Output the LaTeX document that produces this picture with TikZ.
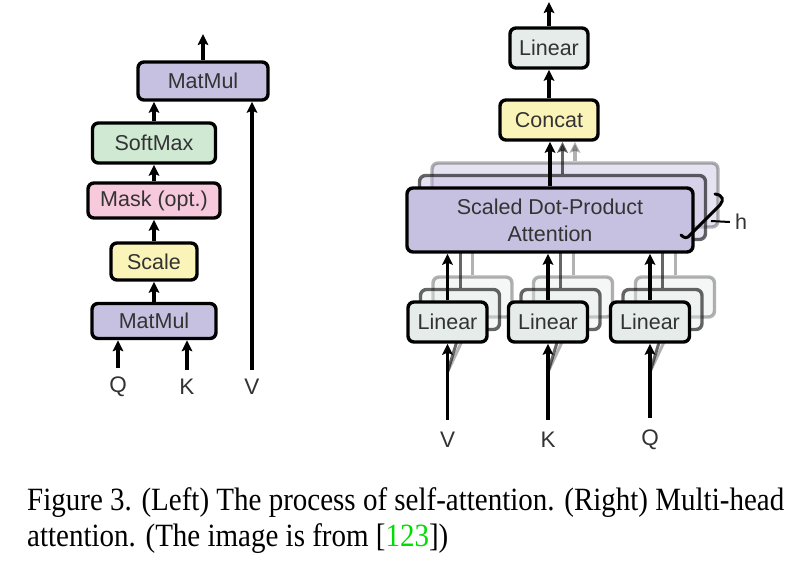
\documentclass[tikz,border=0pt]{standalone}
\usepackage{fontspec}
\setmainfont{Liberation Serif}
\setsansfont{Liberation Sans}
\usetikzlibrary{arrows.meta}
\definecolor{mmpurple}{HTML}{C6C0E1}
\definecolor{smgreen}{HTML}{CFE9D3}
\definecolor{mkpink}{HTML}{F7C9DC}
\definecolor{scyellow}{HTML}{FBF4B9}
\definecolor{lngray}{HTML}{E5ECEA}
\definecolor{txtgray}{HTML}{333333}
\definecolor{citegreen}{HTML}{00DD00}

\begin{document}
\begin{tikzpicture}[x=1pt, y=-1pt,
every node/.style={%
    inner sep=0pt, text=txtgray, font=\sffamily\fontsize{21.5}{24}\selectfont
    },
blk/.style={draw, line width=3.4pt, rounded corners=6pt},
arr/.style={line width=3.4pt, -{Stealth[length=11pt,width=10.5pt,inset=2pt]}},
lbl/.style={font=\sffamily\fontsize{22.5}{24}\selectfont},
captext/.style={anchor=base west, text=black, yscale=1.12,
    font=\rmfamily\fontsize{29}{36}\selectfont}
]
\path[use as bounding box, fill=white] (0,0) rectangle (809,566);

% left: scaled dot-product attention
\node[blk, fill=mmpurple, minimum width=130pt, minimum height=38pt] (mmtop) at (203,81) {MatMul};
\node[blk, fill=smgreen, minimum width=123pt, minimum height=40pt] (smax) at (154,143) {SoftMax};
\node[blk, fill=mkpink, minimum width=132pt, minimum height=35pt] (mask) at (154,200.5) {Mask (opt.)};
\node[blk, fill=scyellow, minimum width=86pt, minimum height=37pt] (scl) at (154,261.5) {Scale};
\node[blk, fill=mmpurple, minimum width=124pt, minimum height=35pt] (mmbot) at (154,321) {MatMul};

\node[lbl] (q) at (118,387) {Q};
\node[lbl] (k) at (187,387) {K};
\node[lbl] (v) at (252,387) {V};
\coordinate (outL) at (203,34);

\draw[arr] ([yshift=9pt]q.north) -- (q |- mmbot.south);
\draw[arr] ([yshift=9pt]k.north) -- (k |- mmbot.south);
\draw[arr] ([yshift=9pt]v.north) -- (v |- mmtop.south);
\foreach \i/\j in {mmbot/scl, scl/mask, mask/smax, smax/mmtop}
    \draw[arr] (\i.north) -- (\i.north |- \j.south);
\draw[arr] (mmtop.north) -- (outL);

% right: multi-head attention, copies behind
\foreach \k/\d/\op in {3/25/0.3, 2/12.5/0.6}{
    \node[blk, draw opacity=\op, fill=mmpurple, fill opacity=0.45,
        minimum width=286pt, minimum height=64pt] (sdpa-\k) at (550+\d,220-\d) {};
    \foreach \i/\x in {1/447.5, 2/548, 3/650}{
        \node[blk, draw opacity=\op, fill=lngray, fill opacity=0.4,
            minimum width=79pt, minimum height=40pt] (lin\i-\k) at (\x+\d,322-\d) {};
        \draw[line width=3pt, black, opacity=\op] (lin\i-\k.north) -- (lin\i-\k.north |- sdpa-\k.south);
        \coordinate (in\i-\k) at (\x,372);
        \draw[line width=3pt, black, opacity=\op] (in\i-\k) -- (lin\i-\k.south);
    }
}

\node[blk, fill=mmpurple, minimum width=286pt, minimum height=64pt, align=center,
    font=\sffamily\fontsize{21.5}{27}\selectfont] (sdpa) at (550,220) {Scaled Dot-Product\\Attention};
\node[blk, fill=scyellow, minimum width=98pt, minimum height=40pt] (cat) at (549,120) {Concat};
\node[blk, fill=lngray, minimum width=78pt, minimum height=40pt] (lout) at (549,48) {Linear};
\coordinate (outR) at (549,2);

\foreach \i/\x/\t in {1/447.5/V, 2/548/K, 3/650/Q}{
    \node[blk, fill=lngray, minimum width=79pt, minimum height=40pt] (lin\i) at (\x,322) {Linear};
    \node[lbl] (in\i) at (\x,440) {\t};
    \draw[arr] ([yshift=12pt]in\i.north) -- (lin\i.south);
    \draw[arr] (lin\i.north) -- (lin\i.north |- sdpa.south);
}

\draw[arr, opacity=0.3] (sdpa-3.north) -- (sdpa-3.north |- cat.south);
\draw[arr, opacity=0.6] (sdpa-2.north) -- (sdpa-2.north |- cat.south);
\draw[arr] (sdpa.north) -- (sdpa.north |- cat.south);
\draw[arr] (cat) -- (lout);
\draw[arr] (lout.north) -- (outR);

% brace for h
\node[lbl, font=\sffamily\fontsize{21.5}{24}\selectfont] (h) at (741,222) {h};
\coordinate (hb) at (711,221);
\draw[line width=3pt, line cap=round] (715,194) .. controls (723,195) and (724,200) .. (720,205)
    -- (690,235) .. controls (687,239) and (684,238) .. (681,235);
\draw[line width=2pt] (hb) -- ([xshift=-5pt]h.west);

% caption
\node[captext] (cap1) at (27,510) {Figure 3. (Left) The process of self-attention. (Right) Multi-head};
\node[captext] (cap2) at (27,546) {attention. (The image is from [\textcolor{citegreen}{123}])};

\end{tikzpicture}
\end{document}
